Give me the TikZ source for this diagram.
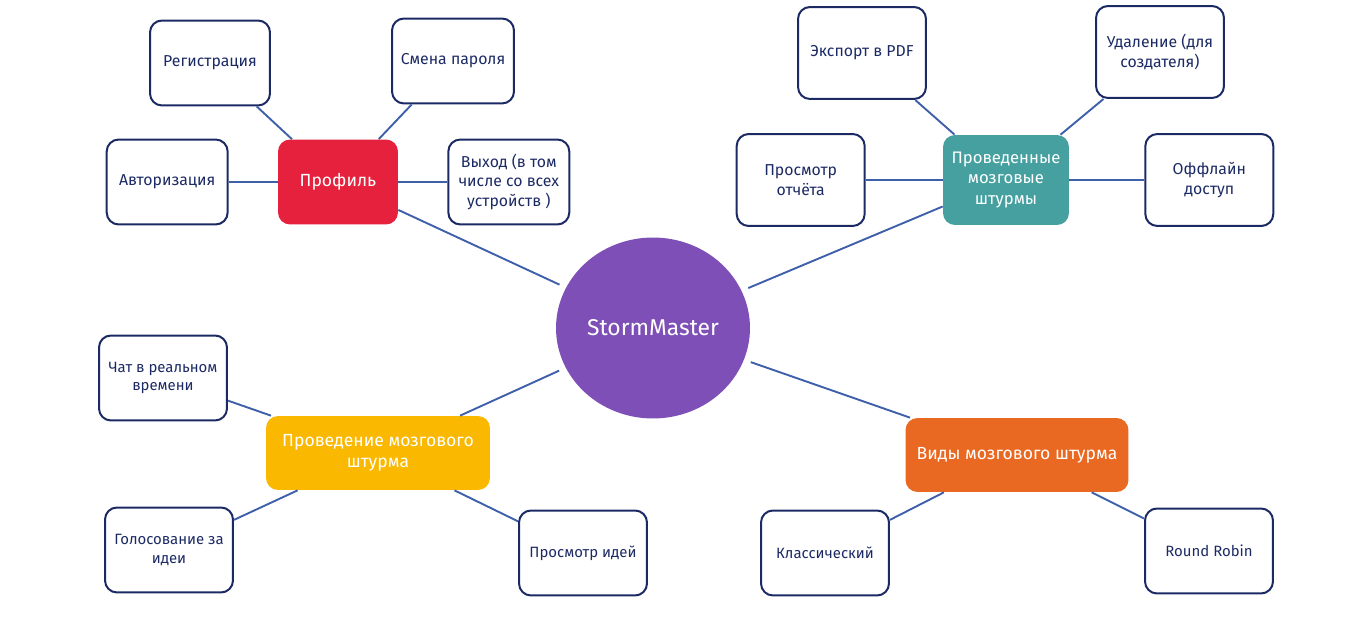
\documentclass[tikz,border=0pt]{standalone}
\usepackage{fontspec}
\setmainfont{Fira Sans}
\usetikzlibrary{positioning,
                shapes.geometric}
\definecolor{navy}{HTML}{1C2A64}
\definecolor{linkblue}{HTML}{3E5FAA}
\definecolor{profred}{HTML}{E6213D}
\definecolor{histteal}{HTML}{46A0A0}
\definecolor{stormpurple}{HTML}{7E4FB7}
\definecolor{runyellow}{HTML}{FBB800}
\definecolor{kindorange}{HTML}{EA6922}
\tikzset{
        base/.style={align=center, rounded corners=2.4mm,
                     font=\fontsize{9}{11}\selectfont},
        leaf/.style={base, draw=navy, line width=0.4mm, text=navy,
                     minimum width=2.56cm, minimum height=1.7cm},
        hub/.style={base, text=white, font=\fontsize{10}{12}\selectfont},
        link/.style={draw=linkblue, line width=0.38mm},
 }

\begin{document}
\begin{tikzpicture}[x=0.02cm, y=-0.02cm]
    \useasboundingbox (0,0) rectangle (1367,634);

    \node[ellipse, fill=stormpurple, inner sep=0pt, minimum width=3.88cm, minimum height=3.62cm,
          text=white, font=\fontsize{13}{15}\selectfont] (storm) at (653,328) {StormMaster};

    % profile
    \node[hub, fill=profred, minimum width=2.4cm, minimum height=1.7cm] (prof) at (338,182) {Профиль};
    \node[leaf, minimum width=2.42cm, left=0.98cm of prof] (auth) {Авторизация};
    \node[leaf, minimum width=2.42cm, right=0.98cm of prof] (logout) {Выход (в том\\числе со всех\\устройств )};
    \node[leaf, minimum width=2.4cm] (reg) at (210,63) {Регистрация};
    \node[leaf, minimum width=2.44cm] (pass) at (453,61) {Смена пароля};

    % past sessions
    \node[hub, fill=histteal, minimum width=2.52cm, minimum height=1.8cm,
          font=\fontsize{9.5}{11.5}\selectfont] (hist) at (1006,180) {Проведенные\\мозговые\\штурмы};
    \node[leaf, minimum height=1.84cm, left=1.54cm of hist] (report) {Просмотр\\отчёта};
    \node[leaf, minimum height=1.84cm, right=1.5cm of hist] (offline) {Оффлайн\\доступ};
    \node[leaf, minimum height=1.84cm] (pdf) at (862,53) {Экспорт в PDF};
    \node[leaf, minimum height=1.84cm] (del) at (1160,52) {Удаление (для\\создателя)};

    % running a session
    \node[hub, fill=runyellow, minimum width=4.48cm, minimum height=1.48cm] (run) at (378,453) {Проведение мозгового\\штурма};
    \node[leaf, font=\fontsize{8.5}{10.5}\selectfont] (chat) at (163,378) {Чат в реальном\\времени};
    \node[leaf, font=\fontsize{8.5}{10.5}\selectfont] (vote) at (169,550) {Голосование за\\идеи};
    \node[leaf, font=\fontsize{8.5}{10.5}\selectfont] (ideas) at (583,553) {Просмотр идей};

    % kinds
    \node[hub, fill=kindorange, minimum width=4.46cm, minimum height=1.48cm] (kind) at (1017,455) {Виды мозгового штурма};
    \node[leaf, font=\fontsize{8.5}{10.5}\selectfont] (classic) at (825,553) {Классический};
    \node[leaf, font=\fontsize{8.5}{10.5}\selectfont] (robin) at (1209,551) {Round Robin};

    \draw[link, shorten >=4pt] (prof) -- (storm);
    \draw[link, shorten >=4pt] (hist) -- (storm);
    \draw[link, shorten >=4pt] (run) -- (storm);
    \draw[link, shorten >=4pt] (kind) -- (storm);

    \draw[link] (prof) -- (auth);
    \draw[link] (prof) -- (logout);
    \draw[link] (prof) -- (reg);
    \draw[link] (prof) -- (pass);

    \draw[link] (hist) -- (report);
    \draw[link] (hist) -- (offline);
    \draw[link] (hist) -- (pdf);
    \draw[link] (hist) -- (del);

    \draw[link] (run) -- (chat);
    \draw[link] (run) -- (vote);
    \draw[link] (run) -- (ideas);

    \draw[link] (kind) -- (classic);
    \draw[link] (kind) -- (robin);
\end{tikzpicture}
\end{document}
